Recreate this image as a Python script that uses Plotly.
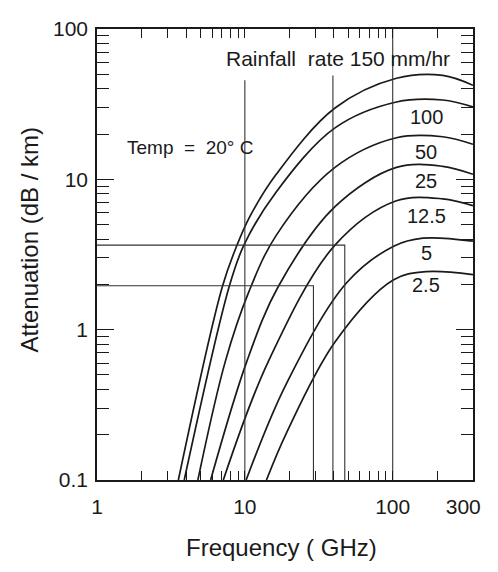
import numpy as np
import plotly.graph_objects as go

# ---------------- data ----------------
rain_labels = ["150", "100", "50", "25", "12.5", "5", "2.5"]

freq_150 = [3.55, 7.04, 8.85, 10.8, 16.3, 40.7, 106, 218, 349]
att_150 = [0.1, 1.93, 3.65, 5.65, 10.8, 29.8, 47.0, 49.1, 42.2]

freq_100 = [3.89, 7.83, 9.85, 16.3, 40.7, 106, 218, 349]
att_100 = [0.1, 1.93, 3.65, 8.25, 22.0, 32.7, 33.7, 30.3]

freq_50 = [4.81, 7.37, 10.6, 16.3, 40.7, 106, 218, 349]
att_50 = [0.1, 0.613, 1.77, 4.24, 12.0, 18.9, 19.2, 17.1]

freq_25 = [5.87, 10.3, 16.8, 40.7, 106, 218, 349]
att_25 = [0.1, 0.613, 1.93, 6.58, 12.0, 12.2, 10.8]

freq_12_5 = [7.15, 14.4, 40.7, 106, 218, 349]
att_12_5 = [0.1, 0.613, 3.65, 7.20, 7.42, 6.68]

freq_5 = [10.2, 19.0, 48.8, 101.5, 160, 349]
att_5 = [0.1, 0.433, 2.05, 3.59, 4.06, 3.88]

freq_2_5 = [14.0, 19.0, 40.7, 101.5, 168, 349]
att_2_5 = [0.1, 0.203, 0.829, 2.15, 2.43, 2.32]

# curve label positions (GHz, dB/km)
label_freq = [168, 168, 168, 168, 168, 168]
label_att = [26.1, 15.3, 9.75, 5.74, 3.23, 1.99]
label_text = ["100", "50", "25", "12.5", "5", "2.5"]

# construction (guide) lines
guide_v_freq = [10, 39.4, 100]
guide_v_top = [45.6, 49, 100]
guide_h_att = [3.65, 1.96]
guide_h_end = [47.4, 29.1]

# axis ticks
x_tick_vals = [1, 10, 100, 300]
x_tick_text = ["1", "10", "100", "300"]
y_tick_vals = [0.1, 1, 10, 100]
y_tick_text = ["0.1", "1", "10", "100"]

FONT = "Liberation Sans, Arial, sans-serif"
INK = "#1a1a1a"

fig = go.Figure()

curves = [(freq_150, att_150), (freq_100, att_100), (freq_50, att_50),
          (freq_25, att_25), (freq_12_5, att_12_5), (freq_5, att_5),
          (freq_2_5, att_2_5)]
for (fx, ay), name in zip(curves, rain_labels):
    fig.add_trace(go.Scatter(x=fx, y=ay, mode="lines", name=name,
                             line=dict(color=INK, width=1.7, shape="spline", smoothing=1.0),
                             hoverinfo="skip"))

# guide lines
gx, gy = [], []
for f, top in zip(guide_v_freq, guide_v_top):
    gx += [f, f, None]
    gy += [top, 0.1, None]
for a, fend in zip(guide_h_att, guide_h_end):
    gx += [1, fend, fend, None]
    gy += [a, a, 0.1, None]
fig.add_trace(go.Scatter(x=gx, y=gy, mode="lines", line=dict(color="#333", width=1.1),
                         hoverinfo="skip", connectgaps=False))

# invisible trace to hold the overlay axes (long major ticks + labels)
fig.add_trace(go.Scatter(x=[1], y=[1], xaxis="x2", yaxis="y2", mode="markers",
                         marker=dict(opacity=0), hoverinfo="skip"))

annotations = []
for f, a, t in zip(label_freq, label_att, label_text):
    annotations.append(dict(x=np.log10(f), y=np.log10(a), text=t, showarrow=False,
                            xref="x", yref="y", font=dict(size=20, family=FONT, color=INK)))
annotations.append(dict(x=np.log10(253), y=np.log10(63.5), text="Rainfall  rate 150 mm/hr",
                        xanchor="right", yanchor="middle", showarrow=False, xref="x", yref="y",
                        font=dict(size=21, family=FONT, color=INK)))
annotations.append(dict(x=np.log10(4.26), y=np.log10(16.3), text="Temp  =  20° C",
                        xanchor="center", yanchor="middle", showarrow=False, xref="x", yref="y",
                        font=dict(size=19, family=FONT, color=INK)))
annotations.append(dict(x=-0.18, y=0.532, xref="paper", yref="paper", text="Attenuation (dB / km)",
                        xanchor="center", yanchor="middle",
                        textangle=-90, showarrow=False, font=dict(size=24, family=FONT, color=INK)))
annotations.append(dict(x=0.492, y=-0.149, xref="paper", yref="paper", text="Frequency ( GHz)",
                        xanchor="center", yanchor="middle",
                        showarrow=False, font=dict(size=24, family=FONT, color=INK)))

x_all_ticks = [m * d for d in (1, 10) for m in range(2, 10)] + [10, 100, 200]
y_all_ticks = [m * d for d in (0.1, 1, 10) for m in range(1, 10)] + [100]

XR = [0, 2.543]
YR = [-1, 2]
tickfont = dict(size=21, family=FONT, color=INK)

fig.update_layout(
    width=482, height=556,
    margin=dict(l=89, r=9, t=15, b=84),
    plot_bgcolor="white", paper_bgcolor="white",
    showlegend=False,
    annotations=annotations,
    xaxis=dict(type="log", range=XR, showline=True, linecolor=INK, linewidth=1.6,
               mirror="ticks", ticks="inside", ticklen=9, tickcolor=INK, tickwidth=1.2,
               tickvals=x_all_ticks, showticklabels=False, showgrid=False, zeroline=False),
    xaxis2=dict(type="log", range=XR, overlaying="x", side="bottom", anchor="y2",
                showline=False, ticks="", tickvals=x_tick_vals, ticktext=x_tick_text,
                tickfont=tickfont, ticklabelstandoff=12, showgrid=False, zeroline=False),
    yaxis=dict(type="log", range=YR, showline=True, linecolor=INK, linewidth=1.6,
               mirror="ticks", ticks="inside", ticklen=12, tickcolor=INK, tickwidth=1.2,
               tickvals=y_all_ticks, showticklabels=False, showgrid=False, zeroline=False),
    yaxis2=dict(type="log", range=YR, overlaying="y", side="left", anchor="x2",
                showline=False, mirror="ticks", ticks="inside", ticklen=17, tickcolor=INK,
                tickwidth=1.3, tickvals=y_tick_vals, ticktext=y_tick_text,
                tickfont=tickfont, ticklabelstandoff=8, showgrid=False, zeroline=False),
)

fig.write_html("out.html")
